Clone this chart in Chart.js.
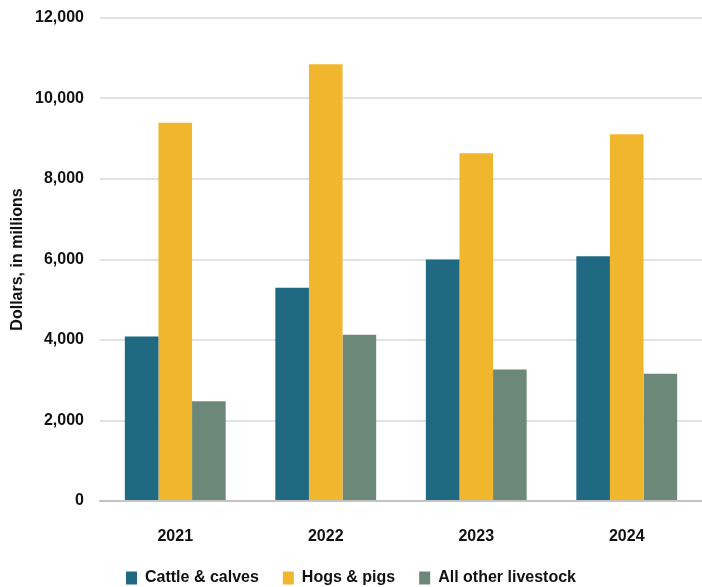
<!DOCTYPE html>
<html>
<head>
<meta charset="utf-8">
<script src="https://cdn.jsdelivr.net/npm/chart.js@4"></script>
<style>
  html, body { margin: 0; padding: 0; background: #fff; }
  #wrap { width: 702px; height: 587px; }
</style>
</head>
<body>
<div id="wrap"><canvas id="chart"></canvas></div>
<script>
const years = ['2021', '2022', '2023', '2024'];
const cattle = [4090, 5300, 6000, 6080];
const hogs = [9400, 10850, 8640, 9110];
const otherLivestock = [2480, 4130, 3270, 3160];
const yTicks = [0, 2000, 4000, 6000, 8000, 10000, 12000];

const fontFam = '"Liberation Sans Narrow", "Liberation Sans", Arial, sans-serif';

// squeeze the legend box so it sits right at the bottom edge
const legendHeight = {
    id: 'legendHeight',
    beforeInit: function (chart) {
        const origFit = chart.legend.fit;
        chart.legend.fit = function () {
            origFit.call(this);
            this.height = 41;
        };
    }
};

const ctx = document.getElementById('chart');

new Chart(ctx, {
    type: 'bar',
    data: {
        labels: years,
        datasets: [{
            label: 'Cattle & calves',
            data: cattle,
            backgroundColor: '#1f6a82'
        },
        {
            label: 'Hogs & pigs',
            data: hogs,
            backgroundColor: '#f0b72e'
        },
        {
            label: 'All other livestock',
            data: otherLivestock,
            backgroundColor: '#6b8878'
        }]
    },
    options: {
        responsive: true,
        maintainAspectRatio: false,
        animation: false,
        layout: {
            padding: { top: 18, right: 0, bottom: 0, left: 0 }
        },
        datasets: {
            bar: {
                categoryPercentage: 0.67,
                barPercentage: 1
            }
        },
        plugins: {
            tooltip: { enabled: false },
            legend: {
                position: 'bottom',
                labels: {
                    color: '#111',
                    font: { family: fontFam, size: 16, weight: 'bold' },
                    boxWidth: 11,
                    boxHeight: 13,
                    padding: 24
                }
            }
        },
        scales: {
            x: {
                grid: { display: false, drawTicks: false },
                border: { color: '#c4c4c4', width: 2 },
                ticks: {
                    color: '#111',
                    padding: 26,
                    font: { family: fontFam, size: 16, weight: 'bold' }
                },
                afterFit: function (scale) {
                    scale.height = 45;
                }
            },
            y: {
                min: 0,
                max: 12000,
                afterBuildTicks: function (axis) {
                    axis.ticks = yTicks.map(v => ({ value: v }));
                },
                afterFit: function (scale) {
                    scale.width = 100;
                    scale.paddingTop = 0;
                },
                grid: { color: '#e2e2e2', lineWidth: 2, drawTicks: false },
                border: { display: false },
                ticks: {
                    color: '#111',
                    padding: 16,
                    font: { family: fontFam, size: 16, weight: 'bold' },
                    callback: v => v.toLocaleString('en-US')
                },
                title: {
                    display: true,
                    text: 'Dollars, in millions',
                    color: '#111',
                    padding: { top: 8, bottom: 0 },
                    font: { family: fontFam, size: 16, weight: 'bold' }
                }
            }
        }
    },
    plugins: [legendHeight]
});
</script>
</body>
</html>
